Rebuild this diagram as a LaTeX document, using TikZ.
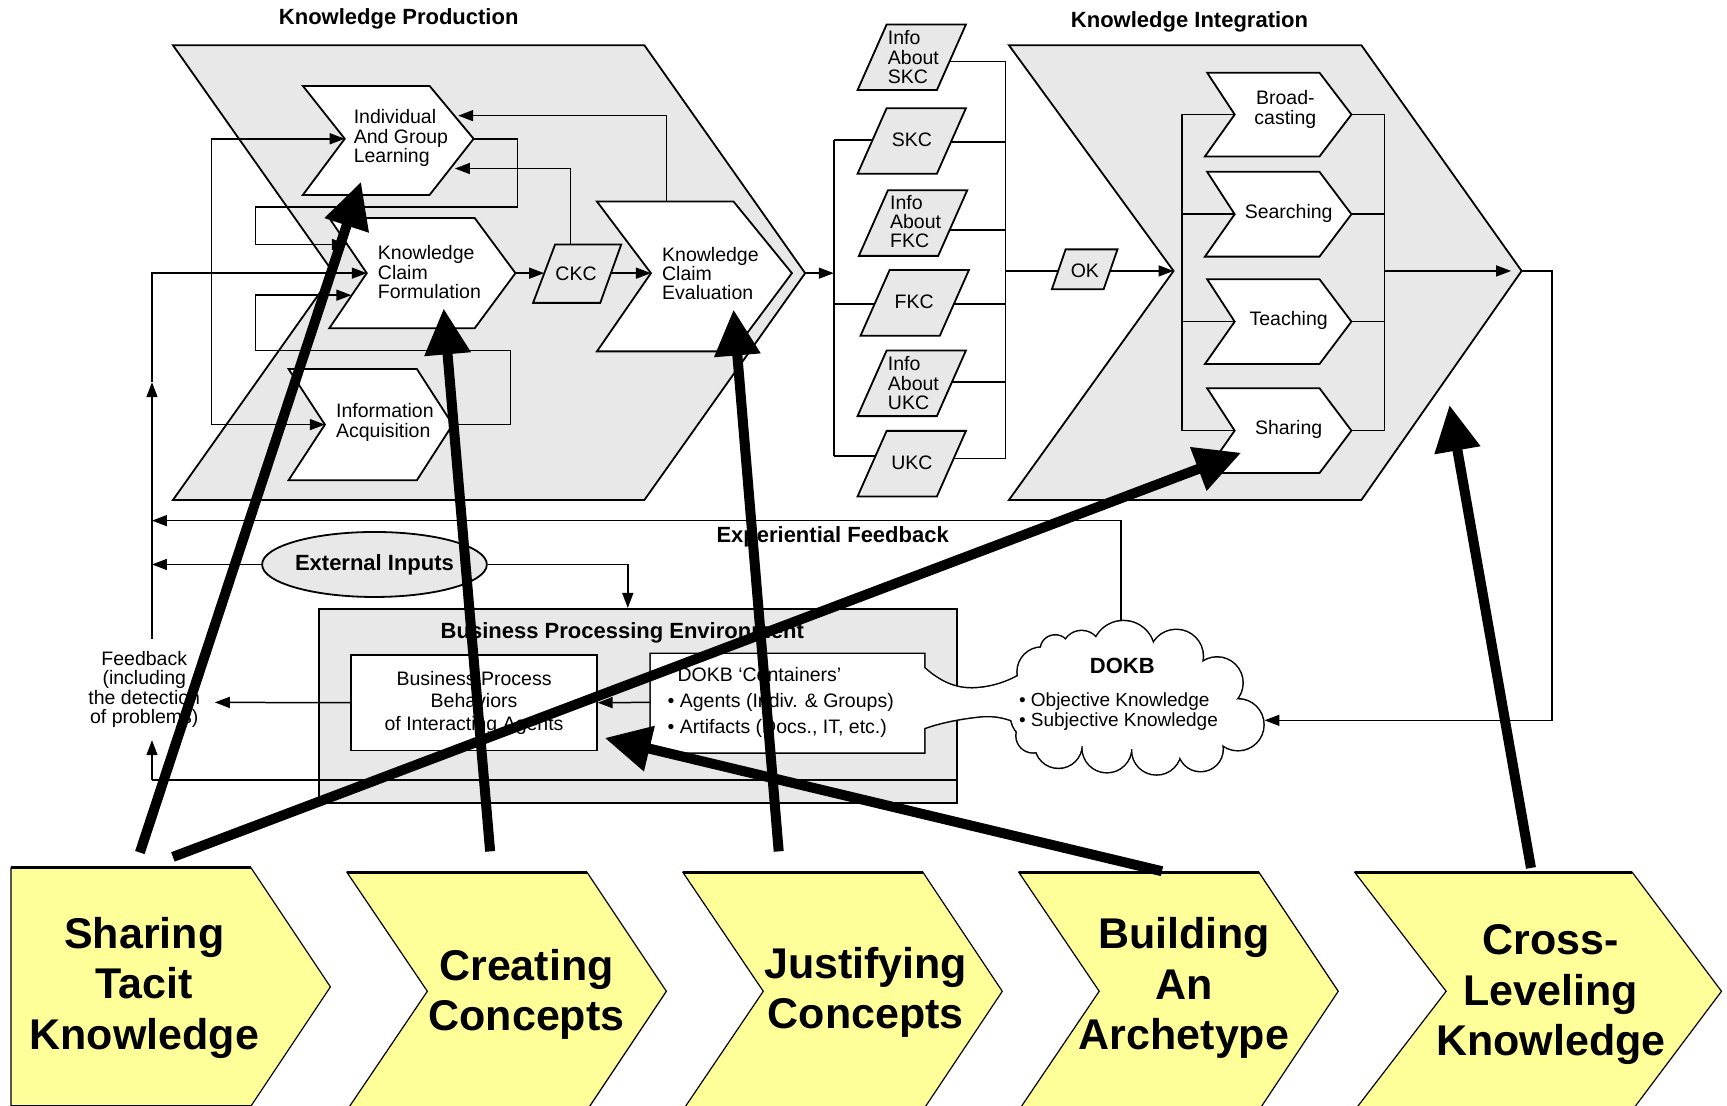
\documentclass[tikz,border=0pt]{standalone}
\usepackage{fontspec}
\setmainfont{Liberation Sans}
\usetikzlibrary{arrows.meta,shapes.geometric}
\definecolor{panelgray}{RGB}{232,232,232}
\definecolor{stepyellow}{RGB}{255,255,153}
\newcommand{\smallfs}{\fontsize{19.5}{19.3}\selectfont}
\tikzset{
  conn/.style={line width=1.5pt},
  arr/.style={conn,-{Triangle[length=15pt,width=11pt]}},
  dblarr/.style={conn,{Triangle[length=15pt,width=11pt]}-{Triangle[length=15pt,width=11pt]}},
  outline/.style={draw,line width=1.8pt,line join=miter},
  panel/.style={outline,fill=panelgray},
  whitebox/.style={outline,fill=white},
  bigarrow/.style={line width=10pt,-{Triangle[length=46pt,width=44pt]}},
  lbl/.style={inner sep=0pt,font=\smallfs},
  llbl/.style={lbl,align=left,anchor=west},
  clbl/.style={lbl,align=center},
  heading/.style={inner sep=0pt,font=\bfseries\fontsize{22}{24}\selectfont},
  steplabel/.style={inner sep=0pt,align=center,font=\bfseries\fontsize{43}{50.5}\selectfont},
  stepbox/.style={draw,line width=1.2pt,fill=stepyellow,line join=miter},
  paragram/.style={panel},
}
% containers box with the neck that opens into the DOKB cloud
\newcommand{\neckpath}{(591,594) -- (839,594) -- (839,606.5) .. controls (855,621) and (870,626) .. (886,625) .. controls (902,624) and (915,619) .. (924,614) -- (960,614) -- (960,654) -- (919,654) .. controls (908,650) and (898,649) .. (886,650.7) .. controls (866,653) and (850,657) .. (839,661) -- (839,683) -- (591,683) -- cycle}
% bumps of the cloud, in order around its rim
\newcommand{\cloudbumps}{946/610/22, 958/590/13, 982/590/17, 1020/592/28, 1068/596/24, 1105/620/23, 1124/658/23, 1090/680/20, 1050/681/22, 1005/679/22, 961/676/21, 938/668/15, 940/650/22}
\begin{document}
\begin{tikzpicture}[x=1.1014pt,y=-1.1014pt]
\useasboundingbox (0,0) rectangle (1568,1004);
\clip (0,0) rectangle (1568,1004);
\fill[white] (0,0) rectangle (1568,1004);

% ---------- panels ----------
\draw[panel] (157,41) -- (585,41) -- (731,248) -- (585,454) -- (157,454) -- (303,248) -- cycle;
\draw[panel] (916,41) -- (1236,41) -- (1381.5,246) -- (1236,454) -- (916,454) -- (1065.5,246) -- cycle;
\node[heading] (kptitle) at (362,17) {Knowledge Production};
\node[heading] (kititle) at (1080,20) {Knowledge Integration};

% ---------- anchor points of the production steps ----------
\coordinate (iaglN) at (313,126);
\coordinate (iaglP) at (430,126);
\coordinate (iaglE1) at (416,105);
\coordinate (iaglE2) at (413,153);
\coordinate (kcfN) at (333,248);
\coordinate (kcfP) at (468,248);
\coordinate (kcfE1) at (315,222);
\coordinate (kcfE2) at (319,268);
\coordinate (iaN) at (295,385.5);
\coordinate (iaP) at (411,385.5);
\coordinate (kceN) at (591,248);
\coordinate (kceP) at (719,248);
\coordinate (kceT) at (605,183);
\coordinate (kpP) at (731,248);
\coordinate (ckcW) at (494,248);
\coordinate (ckcE) at (555,248);
\coordinate (ckcT) at (518,222);
\coordinate (fbTop) at (138,580);
\coordinate (fbMid) at (138,347);
\coordinate (fbBot) at (138,672);
\coordinate (fbCorner) at (138,708);
\coordinate (busL) at (757,248);

% ---------- loops inside knowledge production ----------
\draw[arr] (iaglP) -- (470,126) -- (470,188) -- (232,188) -- (232,222) -- (kcfE1);
\draw[arr] (iaP) -- (463.5,385.5) -- (463.5,318) -- (232,318) -- (232,268) -- (kcfE2);
\draw[arr] (kceT) -- (605,105) -- (iaglE1);
\draw[arr] (ckcT) -- (518,153) -- (iaglE2);
\draw[dblarr] (iaglN) -- (192,126) -- (192,385.5) -- (iaN);
\draw[arr] (fbTop) -- (fbMid);
\draw[arr] (fbMid) -- (138,248) -- (kcfN);

% ---------- production steps ----------
\draw[whitebox] (275,78) -- (390,78) -- (iaglP) -- (390,177) -- (275,177) -- (iaglN) -- cycle;
\draw[whitebox] (299,198) -- (431,198) -- (kcfP) -- (431,298) -- (299,298) -- (kcfN) -- cycle;
\draw[whitebox] (262,335) -- (378.5,335) -- (iaP) -- (378.5,436) -- (262,436) -- (iaN) -- cycle;
\draw[whitebox] (542,183) -- (666,183) -- (kceP) -- (666,319) -- (542,319) -- (kceN) -- cycle;
\node[llbl] (iagl) at (321,125.5) {Individual\\And Group\\Learning};
\node[llbl] (kcf) at (343,247) {Knowledge\\Claim\\Formulation};
\node[llbl] (ia) at (305,383.5) {Information\\Acquisition};
\node[llbl] (kce) at (601,248.5) {Knowledge\\Claim\\Evaluation};

% CKC
\draw[arr] (kcfP) -- (ckcW);
\draw[arr] (ckcE) -- (kceN);
\draw[paragram] (504,222) -- (564,222) -- (545,275) -- (484,275) -- cycle;
\node[clbl] (ckc) at (523,249) {CKC};
\draw[arr] (kpP) -- (busL);

% ---------- claim stack ----------
\draw[conn] (757,127) -- (757,414);
\draw[conn] (913,56) -- (913,416.5);
\draw[conn] (757,127) -- (827,127);
\draw[conn] (757,276) -- (829,276);
\draw[conn] (757,414) -- (827,414);
\draw[conn] (827,56) -- (913,56);
\draw[conn] (827,129) -- (913,129);
\draw[conn] (829,209) -- (913,209);
\draw[conn] (829,276) -- (913,276);
\draw[conn] (827,347) -- (913,347);
\draw[conn] (827,416.5) -- (913,416.5);
\coordinate (busR) at (913,246);
\coordinate (okW) at (961,246);
\coordinate (okE) at (1008,246);
\coordinate (kiN) at (1065.5,246);
\draw[conn] (busR) -- (okW);
\draw[arr] (okE) -- (kiN);

\foreach \cx/\cy in {827.8/52, 827.8/128, 829/202.5, 830.5/275, 827.8/348, 827.8/421}
  \draw[paragram, shift={(\cx,\cy)}] (-22.8,-29.8) -- (49.2,-29.8) -- (22.8,29.8) -- (-49.2,29.8) -- cycle;
\draw[paragram] (967.5,226.4) -- (1014.6,226.4) -- (1002,262.7) -- (955,262.7) -- cycle;

\begin{scope}[every node/.append style={font=\fontsize{19.5}{18.7}\selectfont}]
\node[llbl] (iskc) at (806,52) {Info\\About\\SKC};
\node[clbl] (skc) at (828,127) {SKC};
\node[llbl] (ifkc) at (808,201) {Info\\About\\FKC};
\node[clbl] (fkc) at (830,274) {FKC};
\node[llbl] (iukc) at (806,348) {Info\\About\\UKC};
\node[clbl] (ukc) at (828,420) {UKC};
\node[clbl] (ok) at (985,245.5) {OK};
\end{scope}

% ---------- knowledge integration ----------
\coordinate (kiP) at (1381.5,246);
\draw[conn] (1121,104) -- (1073,104) -- (1073,391) -- (1121,391);
\draw[conn] (1073,194.5) -- (1121,194.5);
\draw[conn] (1073,292) -- (1121,292);
\draw[conn] (1227,104) -- (1257,104) -- (1257,391) -- (1227,391);
\draw[conn] (1227,194.5) -- (1257,194.5);
\draw[conn] (1227,292) -- (1257,292);
\draw[arr] (1257,246) -- (1372,246);
\foreach \t/\b in {66/142, 156/233, 253.5/330.5, 352.5/429.5}
  \draw[whitebox] (1096,\t) -- (1198,\t) -- (1227,{(\t+\b)/2}) -- (1198,\b) -- (1094,\b) -- (1121,{(\t+\b)/2}) -- cycle;
\node[clbl] (broad) at (1167,99.5) {Broad-\\casting};
\node[clbl] (search) at (1170,193.5) {Searching};
\node[clbl] (teach) at (1170,290.5) {Teaching};
\node[clbl] (share) at (1170,389.5) {Sharing};

% ---------- business processing environment ----------
\node[outline, fill=panelgray, minimum width=637.7pt, minimum height=193.8pt, anchor=north west, inner sep=0pt] (bpe) at (289,552) {};
\node[heading] (bpetitle) at (565,575) {Business Processing Environment};
\node[whitebox, minimum width=245.4pt, minimum height=95.6pt, align=center, inner sep=0pt, font=\fontsize{19.5}{22.6}\selectfont] (bpb) at (430.4,638) {Business Process\\Behaviors\\of Interacting Agents};

\node[ellipse, outline, fill=panelgray, minimum width=220pt, minimum height=65pt, inner sep=0pt, font=\bfseries\fontsize{22}{24}\selectfont] (ext) at (340,512.5) {External Inputs};
\coordinate (fbx) at (138,0);
\draw[arr] (ext.west) -- (ext.west -| fbx);
\draw[arr] (ext.east) -- (570,512.5) -- (570,552);

\coordinate (cloudTop) at (1018,565);
\draw[arr] (cloudTop) -- (1018,472.7) -- (fbx |- 0,472.7);
\node[heading] (exptitle) at (756,487) {Experiential Feedback};

\draw[arr] (kiP) -- (1409,246) -- (1409,654) -- (1148,654);

% feedback line running along the bottom of the environment
\draw[conn] (bpe.east |- fbCorner) -- (fbCorner);
\draw[arr] (fbCorner) -- (fbBot);

% containers box joined to the DOKB cloud (outline of the union)
\begin{scope}[line width=3pt]
\draw \neckpath;
\foreach \cx/\cy/\r in \cloudbumps
  \draw (\cx,\cy) circle[radius=\r];
\end{scope}
\fill[white] \neckpath;
\foreach \cx/\cy/\r in \cloudbumps
  \fill[white] (\cx,\cy) circle[radius=\r];
\fill[white] (946,610) -- (958,590) -- (982,590) -- (1020,592) -- (1068,596) -- (1105,620) -- (1124,658) -- (1090,680) -- (1050,681) -- (1005,679) -- (961,676) -- (938,668) -- (940,650) -- cycle;
\fill[white] (1030,635) ellipse[x radius=85, y radius=45];

\node[llbl, font=\fontsize{19.5}{26}\selectfont] (cont) at (606,637.5) {\hspace{10pt}DOKB ‘Containers’\\\textbullet\ Agents (Indiv. \& Groups)\\\textbullet\ Artifacts (Docs., IT, etc.)};
\node[heading] (dokb) at (1019,605) {DOKB};
\node[llbl, font=\fontsize{19}{19.5}\selectfont] (oksk) at (925,646) {\textbullet\ Objective Knowledge\\\textbullet\ Subjective Knowledge};

\coordinate (contW) at (591,637.7);
\draw[arr] (contW) -- (bpb.east);
\draw[arr] (bpb.west) -- (195,637.7);
\node[clbl, font=\fontsize{19.5}{19.5}\selectfont] (fb) at (131,626) {Feedback\\(including\\the detection\\of problems)};

% ---------- SECI steps ----------
\draw[stepbox] (10,788) -- (228,788) -- (300,896) -- (228,1004) -- (10,1004) -- cycle;
\foreach \l/\r/\p/\n in {315/533/605/388, 620/838/910/693, 925/1143/1215/998, 1230/1482/1563/1313}
  \draw[stepbox] (\l,792) -- (\r,792) -- (\p,900) -- (\r,1008) -- (\l,1008) -- (\n,900) -- cycle;
\draw[line width=3pt] (10,788) -- (228,788);
\foreach \l/\r in {315/533, 620/838, 925/1143, 1230/1482}
  \draw[line width=3pt] (\l,792) -- (\r,792);
\node[steplabel] (s1) at (131,897) {Sharing\\Tacit\\Knowledge};
\node[steplabel] (s2) at (478,903) {Creating\\Concepts};
\node[steplabel] (s3) at (786,901) {Justifying\\Concepts};
\node[steplabel] (s4) at (1075,897) {Building\\An\\Archetype};
\node[steplabel] (s5) at (1408,903) {Cross-\\Leveling\\Knowledge};

% ---------- mapping arrows ----------
\coordinate (a1s) at (127,774);   \coordinate (a1t) at (327.8,165);
\coordinate (a2s) at (157,778);   \coordinate (a2t) at (1127,411);
\coordinate (a3s) at (445,773);   \coordinate (a3t) at (402.8,280);
\coordinate (a4s) at (707,773);   \coordinate (a4t) at (666,281);
\coordinate (a5s) at (1055,791);  \coordinate (a5t) at (549,670);
\coordinate (a6s) at (1390,788);  \coordinate (a6t) at (1316,367.7);
\draw[bigarrow] (a1s) -- (a1t);
\draw[bigarrow] (a2s) -- (a2t);
\draw[bigarrow] (a3s) -- (a3t);
\draw[bigarrow] (a4s) -- (a4t);
\draw[bigarrow] (a5s) -- (a5t);
\draw[bigarrow] (a6s) -- (a6t);
\end{tikzpicture}
\end{document}
